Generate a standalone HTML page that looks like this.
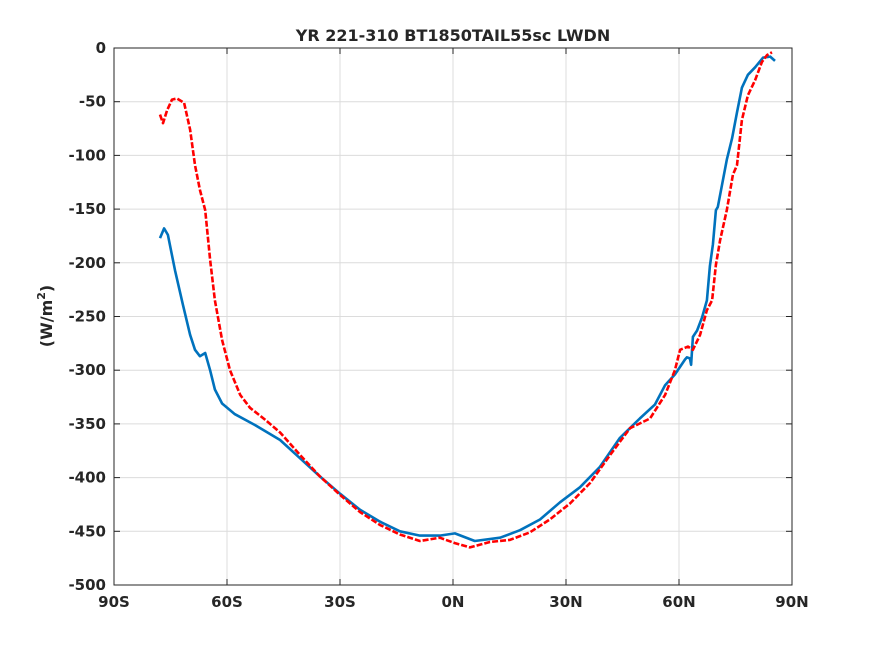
<!DOCTYPE html>
<html><head><meta charset="utf-8"><style>
body{margin:0;background:#fff;font-family:"Liberation Sans",sans-serif}
svg text{font-family:"DejaVu Sans","Liberation Sans",sans-serif;font-weight:bold;fill:#262626}
</style></head><body>
<svg id="chart" width="875" height="656" viewBox="0 0 875 656" xmlns="http://www.w3.org/2000/svg">
<rect width="875" height="656" fill="#fff"/>
<g id="grid"></g><g id="series"></g><g id="axes"></g>
</svg>
<script>
const xTicks=[-90,-60,-30,0,30,60,90];
const xTickLabels=["90S","60S","30S","0N","30N","60N","90N"];
const yTicks=[0,-50,-100,-150,-200,-250,-300,-350,-400,-450,-500];
const blueLat=[-77.8,-76.7,-75.7,-73.8,-71.7,-69.8,-68.5,-67.2,-65.8,-64.5,-63.2,-61.3,-57.9,-52.6,-45.9,-40.6,-35.3,-30,-24.7,-19.4,-14.1,-8.8,-3.5,0.5,5.8,12.5,17.8,23.1,28.4,33.7,39,44.3,49.6,53.6,56.3,58.9,61.6,62.1,62.9,63.2,63.7,64.8,66.1,67.4,68.2,69.0,69.8,70.3,71.4,72.7,74.1,75.4,76.7,78.3,80.2,82.3,84.2,85.5];
const blueVal=[-177,-168,-174,-207,-239,-267,-281,-287,-284,-300,-318,-331,-341,-351,-365,-382,-399,-415,-430,-441,-450,-454,-454,-452,-459,-456,-449,-439,-423,-409,-390,-363,-345,-332,-314,-304,-290,-288,-289,-295,-269,-263,-251,-235,-203,-183,-151,-148,-128,-104,-84,-60,-37,-25,-18,-9,-8,-12];
const redLat=[-77.8,-77,-75.9,-74.6,-73.3,-71.4,-69.8,-68.5,-67.2,-65.8,-64.5,-63.2,-61.3,-59.2,-56.5,-53.9,-49.9,-45.9,-40.6,-35.3,-30,-24.7,-19.4,-14.1,-8.8,-3.5,0.5,4.5,9.8,15.1,20.4,25.7,31.1,36.4,41.7,47,52.3,56.3,58.9,60.3,62.4,63.7,65.6,67.4,68.8,69.8,70.9,72.7,74.3,75.4,76.7,78.3,80.2,82,83.4,84.7];
const redVal=[-62,-70,-58,-48,-47,-51,-76,-109,-132,-151,-197,-235,-272,-300,-323,-335,-346,-358,-379,-399,-416,-432,-444,-453,-459,-456,-461,-465,-460,-458,-451,-439,-424,-405,-379,-354,-345,-323,-300,-281,-278,-281,-267,-244,-235,-202,-179,-151,-118,-109,-67,-44,-30,-13,-6.5,-4];
const L=114,R=792,T=48,B=585;
const xs=v=>L+(v+90)/180*(R-L);
const ys=v=>T+(0-v)/500*(B-T);
const NS="http://www.w3.org/2000/svg";
function mk(tag,attrs,parent){const e=document.createElementNS(NS,tag);for(const k in attrs)e.setAttribute(k,attrs[k]);parent.appendChild(e);return e;}
const grid=document.getElementById('grid'),axes=document.getElementById('axes'),series=document.getElementById('series');
xTicks.forEach((t,i)=>{const x=xs(t);
 const g=mk('line',{x1:x,x2:x,y1:T,y2:B,stroke:'#dcdcdc','stroke-width':1},grid);
 
 mk('line',{x1:x,x2:x,y1:B,y2:B-6,stroke:'#262626'},axes);
 mk('line',{x1:x,x2:x,y1:T,y2:T+6,stroke:'#262626'},axes);
 const tx=mk('text',{x:x,y:B+22,'text-anchor':'middle','font-size':15},axes);tx.textContent=xTickLabels[i];
 
});
yTicks.forEach(t=>{const y=ys(t);
 const g=mk('line',{x1:L,x2:R,y1:y,y2:y,stroke:'#dcdcdc','stroke-width':1},grid);
 
 mk('line',{x1:L,x2:L+6,y1:y,y2:y,stroke:'#262626'},axes);
 mk('line',{x1:R,x2:R-6,y1:y,y2:y,stroke:'#262626'},axes);
 const tx=mk('text',{x:L-8,y:y+5,'text-anchor':'end','font-size':15},axes);tx.textContent=t;
 
});
const box=mk('rect',{x:L,y:T,width:R-L,height:B-T,fill:'none',stroke:'#262626','stroke-width':1},axes);

const title=mk('text',{x:453,y:41,'text-anchor':'middle','font-size':16},axes);title.textContent='YR 221-310 BT1850TAIL55sc LWDN';

const yl=mk('text',{transform:'translate(52,316) rotate(-90)','text-anchor':'middle','font-size':16},axes);
yl.innerHTML='(W/m<tspan dy="-7" font-size="11">2</tspan><tspan dy="7">)</tspan>';

function pts(a,b){return a.map((v,i)=>xs(v).toFixed(1)+','+ys(b[i]).toFixed(1)).join(' ');}
const bl=mk('polyline',{points:pts(blueLat,blueVal),fill:'none',stroke:'#0072BD','stroke-width':2.6,'stroke-linejoin':'round'},series);

const rl=mk('polyline',{points:pts(redLat,redVal),fill:'none',stroke:'#FF0000','stroke-width':2.6,'stroke-dasharray':'6,2','stroke-linejoin':'round'},series);

</script>
</body></html>
